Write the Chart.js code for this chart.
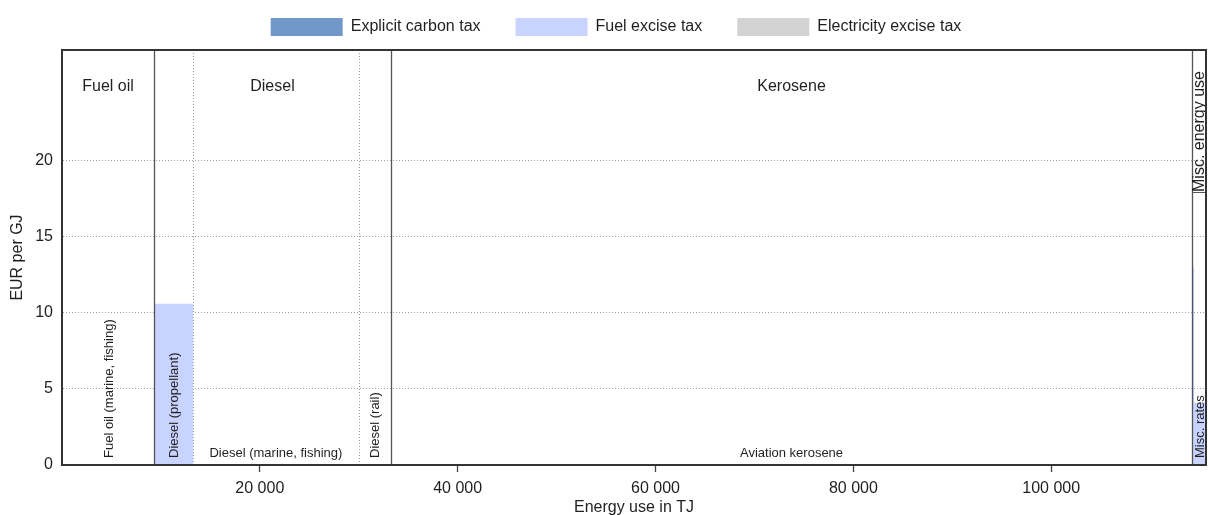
<!DOCTYPE html>
<html>
<head>
<meta charset="utf-8">
<script src="https://cdn.jsdelivr.net/npm/chart.js@4/dist/chart.umd.min.js"></script>
<style>
  html, body { margin: 0; padding: 0; background: #fff; }
  #wrap { width: 1208px; height: 515px; }
</style>
</head>
<body>
<div id="wrap"><canvas id="chart"></canvas></div>
<script>
// ---- data ----
const fuelTypes = ['Fuel oil', 'Diesel', 'Kerosene', 'Misc. energy use'];
const fuelTypeSubCount = [1, 3, 1, 1];

const subCategories = ['Fuel oil (marine, fishing)', 'Diesel (propellant)', 'Diesel (marine, fishing)',
  'Diesel (rail)', 'Aviation kerosene', 'Misc. rates'];
const subEnergyUse = [9300, 3950, 16750, 3250, 81000, 1400];   // TJ

// bars (misc. rates holds two small bars)
const barEnergyUse = [9300, 3950, 16750, 3250, 81000, 200, 1200]; // TJ
const carbonTax = [0, 0, 0, 0, 0, 0, 0];                           // EUR per GJ
const fuelExciseTax = [0, 10.6, 0, 0, 0, 13.0, 4.1];
const electricityTax = [0, 0, 0, 0, 0, 0, 0];

const xTicks = [20000, 40000, 60000, 80000, 100000];
const yTicks = [0, 5, 10, 15, 20];
const yMax = 27.3;

const FONT = "'Liberation Sans', Arial, sans-serif";
const TEXT = '#1f1f1f';

// step outline for a stacked layer
function stepPoints(widths, tops) {
  const pts = [];
  let x = 0;
  widths.forEach((w, i) => {
    pts.push({ x: x, y: tops[i] });
    pts.push({ x: x + w, y: tops[i] });
    x += w;
  });
  return pts;
}

const carbonTop = carbonTax.slice();
const fuelTop = carbonTax.map((v, i) => v + fuelExciseTax[i]);
const elecTop = fuelTop.map((v, i) => v + electricityTax[i]);
const xMax = barEnergyUse.reduce((a, b) => a + b, 0);

function layer(label, color, tops, fill) {
  return {
    label: label,
    data: stepPoints(barEnergyUse, tops),
    backgroundColor: color,
    borderColor: color,
    borderWidth: 0,
    pointRadius: 0,
    tension: 0,
    fill: fill
  };
}

// dividers, category labels, frame
const annotate = {
  id: 'annotate',
  afterDatasetsDraw(chart) {
    const { ctx, chartArea: a, scales: { x } } = chart;
    ctx.save();

    // sub-category edges
    const edges = [0];
    subEnergyUse.forEach(w => edges.push(edges[edges.length - 1] + w));
    // fuel type edges (index into edges)
    const typeEdgeIdx = [0];
    fuelTypeSubCount.forEach(n => typeEdgeIdx.push(typeEdgeIdx[typeEdgeIdx.length - 1] + n));

    // dividers
    for (let i = 1; i < edges.length - 1; i++) {
      const px = Math.round(x.getPixelForValue(edges[i])) + 0.5;
      const solid = typeEdgeIdx.includes(i);
      ctx.beginPath();
      ctx.setLineDash(solid ? [] : [1, 2]);
      ctx.strokeStyle = solid ? '#555' : '#999';
      ctx.lineWidth = solid ? 1.3 : 1;
      ctx.moveTo(px, a.top);
      ctx.lineTo(px, a.bottom);
      ctx.stroke();
    }
    ctx.setLineDash([]);

    // sub-category labels
    ctx.fillStyle = TEXT;
    ctx.font = '13px ' + FONT;
    subCategories.forEach((name, i) => {
      const x0 = x.getPixelForValue(edges[i]);
      const x1 = x.getPixelForValue(edges[i + 1]);
      const cx = (x0 + x1) / 2;
      if (ctx.measureText(name).width + 6 < x1 - x0) {
        ctx.textAlign = 'center';
        ctx.textBaseline = 'middle';
        ctx.fillText(name, cx, a.bottom - 12);
      } else {
        ctx.save();
        ctx.translate(cx + 1, a.bottom - 7);
        ctx.rotate(-Math.PI / 2);
        ctx.textAlign = 'left';
        ctx.textBaseline = 'middle';
        ctx.fillText(name, 0, 0);
        ctx.restore();
      }
    });

    // fuel type labels
    ctx.font = '16px ' + FONT;
    fuelTypes.forEach((name, i) => {
      const x0 = x.getPixelForValue(edges[typeEdgeIdx[i]]);
      const x1 = x.getPixelForValue(edges[typeEdgeIdx[i + 1]]);
      const cx = (x0 + x1) / 2;
      if (ctx.measureText(name).width + 6 < x1 - x0) {
        ctx.textAlign = 'center';
        ctx.textBaseline = 'middle';
        ctx.fillText(name, cx, a.top + 37);
      } else {
        const yStart = a.top + 142;
        ctx.save();
        ctx.translate(cx + 1, yStart);
        ctx.rotate(-Math.PI / 2);
        ctx.textAlign = 'left';
        ctx.textBaseline = 'middle';
        ctx.fillText(name, 0, 0);
        ctx.restore();
        ctx.beginPath();
        ctx.strokeStyle = '#555';
        ctx.lineWidth = 1;
        ctx.moveTo(x0, yStart + 0.5);
        ctx.lineTo(x1, yStart + 0.5);
        ctx.stroke();
      }
    });

    // top and right frame
    ctx.beginPath();
    ctx.strokeStyle = '#333';
    ctx.lineWidth = 2;
    ctx.moveTo(a.left, a.top);
    ctx.lineTo(a.right, a.top);
    ctx.lineTo(a.right, a.bottom);
    ctx.stroke();
    ctx.restore();
  }
};

// legend sits in a fixed 50px band
const legendBand = {
  id: 'legendBand',
  beforeInit(chart) {
    const fit = chart.legend.fit;
    chart.legend.fit = function () {
      fit.bind(chart.legend)();
      this.height = 50;
    };
  },
  afterLayout(chart) {
    const lg = chart.legend;
    lg.top = -17;
    lg.left += 13;
    lg.right += 13;
  }
};

new Chart(document.getElementById('chart'), {
  type: 'line',
  data: {
    datasets: [
      layer('Explicit carbon tax', '#7099CA', carbonTop, 'origin'),
      layer('Fuel excise tax', '#C8D4FF', fuelTop, '-1'),
      layer('Electricity excise tax', '#D3D3D3', elecTop, '-1')
    ]
  },
  options: {
    responsive: true,
    maintainAspectRatio: false,
    animation: false,
    events: [],
    layout: { padding: { left: 0, right: 2, top: 0, bottom: 0 } },
    plugins: {
      tooltip: { enabled: false },
      legend: {
        position: 'top',
        align: 'center',
        labels: {
          boxWidth: 72,
          boxHeight: 18,
          padding: 35,
          color: TEXT,
          font: { family: FONT, size: 16 }
        }
      }
    },
    scales: {
      x: {
        type: 'linear',
        min: 0,
        max: xMax,
        afterFit(s) { s.height = 50; },
        afterBuildTicks(s) { s.ticks = xTicks.map(v => ({ value: v })); },
        grid: { drawOnChartArea: false, drawTicks: true, tickLength: 7, tickColor: '#444', tickWidth: 1.3 },
        border: { display: true, color: '#333', width: 2, z: 1 },
        ticks: {
          color: TEXT,
          font: { family: FONT, size: 16 },
          padding: 7,
          maxRotation: 0,
          callback: v => String(v).replace(/\B(?=(\d{3})+(?!\d))/g, ' ')
        },
        title: {
          display: true,
          text: 'Energy use in TJ',
          color: TEXT,
          font: { family: FONT, size: 16 },
          padding: { top: 0, bottom: -2 }
        }
      },
      y: {
        min: 0,
        max: yMax,
        afterFit(s) { s.width = 62; },
        afterBuildTicks(s) { s.ticks = yTicks.map(v => ({ value: v })); },
        grid: { color: '#a0a0a0', lineWidth: 1, drawTicks: false },
        border: { display: true, color: '#333', width: 2, dash: [1, 2], z: 1 },
        ticks: {
          color: TEXT,
          font: { family: FONT, size: 16 },
          padding: 9
        },
        title: {
          display: true,
          text: 'EUR per GJ',
          color: TEXT,
          font: { family: FONT, size: 16 },
          padding: { top: 8, bottom: 0 }
        }
      }
    }
  },
  plugins: [legendBand, annotate]
});
</script>
</body>
</html>
